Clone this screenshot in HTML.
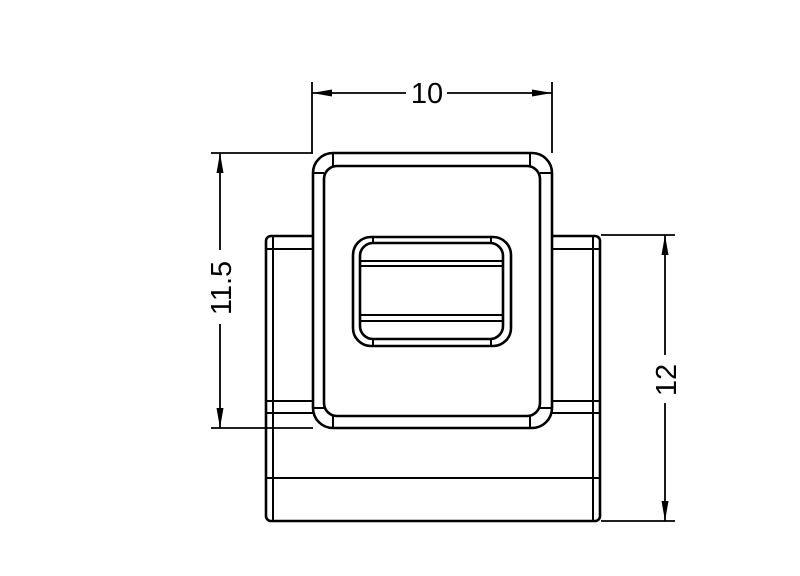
<!DOCTYPE html>
<html><head><style>html,body{margin:0;padding:0;background:#fff;}svg{display:block}</style></head>
<body>
<svg width="800" height="576" viewBox="0 0 800 576" xmlns="http://www.w3.org/2000/svg">
<g fill="none" stroke="#000" stroke-width="2.6">
<!-- body -->
<rect x="266" y="236" width="334" height="285" rx="5"/>
<line x1="273" y1="237" x2="273" y2="520" stroke-width="2"/>
<line x1="593" y1="237" x2="593" y2="520" stroke-width="2"/>
<line x1="266" y1="249" x2="313" y2="249" stroke-width="2"/>
<line x1="552" y1="249" x2="600" y2="249" stroke-width="2"/>
<line x1="266" y1="401" x2="313" y2="401" stroke-width="2"/>
<line x1="552" y1="401" x2="600" y2="401" stroke-width="2"/>
<line x1="266" y1="413" x2="316" y2="413" stroke-width="2"/>
<line x1="549" y1="413" x2="600" y2="413" stroke-width="2"/>
<line x1="266" y1="478" x2="600" y2="478" stroke-width="2"/>
<!-- front square -->
<rect x="313" y="153" width="239" height="275" rx="20" fill="#fff"/>
<rect x="324" y="166" width="216" height="250" rx="13"/>
<line x1="333" y1="153" x2="333" y2="166" stroke-width="2"/>
<line x1="530" y1="153" x2="530" y2="166" stroke-width="2"/>
<line x1="313" y1="173" x2="324" y2="173" stroke-width="2"/>
<line x1="540" y1="173" x2="552" y2="173" stroke-width="2"/>
<line x1="313" y1="408" x2="324" y2="408" stroke-width="2"/>
<line x1="540" y1="408" x2="552" y2="408" stroke-width="2"/>
<line x1="333" y1="416" x2="333" y2="428" stroke-width="2"/>
<line x1="530" y1="416" x2="530" y2="428" stroke-width="2"/>
<!-- window -->
<rect x="353" y="237" width="158" height="109" rx="18"/>
<rect x="360" y="243" width="143" height="96" rx="13"/>
<line x1="373" y1="237" x2="373" y2="243" stroke-width="2"/>
<line x1="491" y1="237" x2="491" y2="243" stroke-width="2"/>
<line x1="373" y1="339" x2="373" y2="346" stroke-width="2"/>
<line x1="491" y1="339" x2="491" y2="346" stroke-width="2"/>
<line x1="360" y1="261" x2="503" y2="261" stroke-width="2"/>
<line x1="360" y1="266" x2="503" y2="266" stroke-width="2"/>
<line x1="360" y1="315" x2="503" y2="315" stroke-width="2"/>
<line x1="360" y1="321" x2="503" y2="321" stroke-width="2"/>
</g>
<g stroke="#000" stroke-width="1.8" fill="none">
<line x1="312" y1="82" x2="312" y2="153"/>
<line x1="552" y1="82" x2="552" y2="153"/>
<line x1="312" y1="93" x2="406" y2="93"/>
<line x1="447" y1="93" x2="552" y2="93"/>
<line x1="211" y1="153" x2="313" y2="153"/>
<line x1="211" y1="428" x2="313" y2="428"/>
<line x1="220" y1="153" x2="220" y2="250"/>
<line x1="220" y1="324" x2="220" y2="428"/>
<line x1="601" y1="235" x2="675" y2="235"/>
<line x1="601" y1="521" x2="675" y2="521"/>
<line x1="665" y1="235" x2="665" y2="355"/>
<line x1="665" y1="403" x2="665" y2="521"/>
</g>
<g fill="#000">
<polygon points="312,93 332,89.5 332,96.5"/>
<polygon points="552,93 532,89.5 532,96.5"/>
<polygon points="220,153 216.5,173 223.5,173"/>
<polygon points="220,428 216.5,408 223.5,408"/>
<polygon points="665,235 661.5,255 668.5,255"/>
<polygon points="665,521 661.5,501 668.5,501"/>
</g>
<g font-family="Liberation Sans, sans-serif" font-size="29" fill="#000" text-anchor="middle">
<text x="427" y="103">10</text>
<text transform="translate(231,288) rotate(-90)">11.5</text>
<text transform="translate(676,380) rotate(-90)">12</text>
</g>
</svg>
</body></html>
